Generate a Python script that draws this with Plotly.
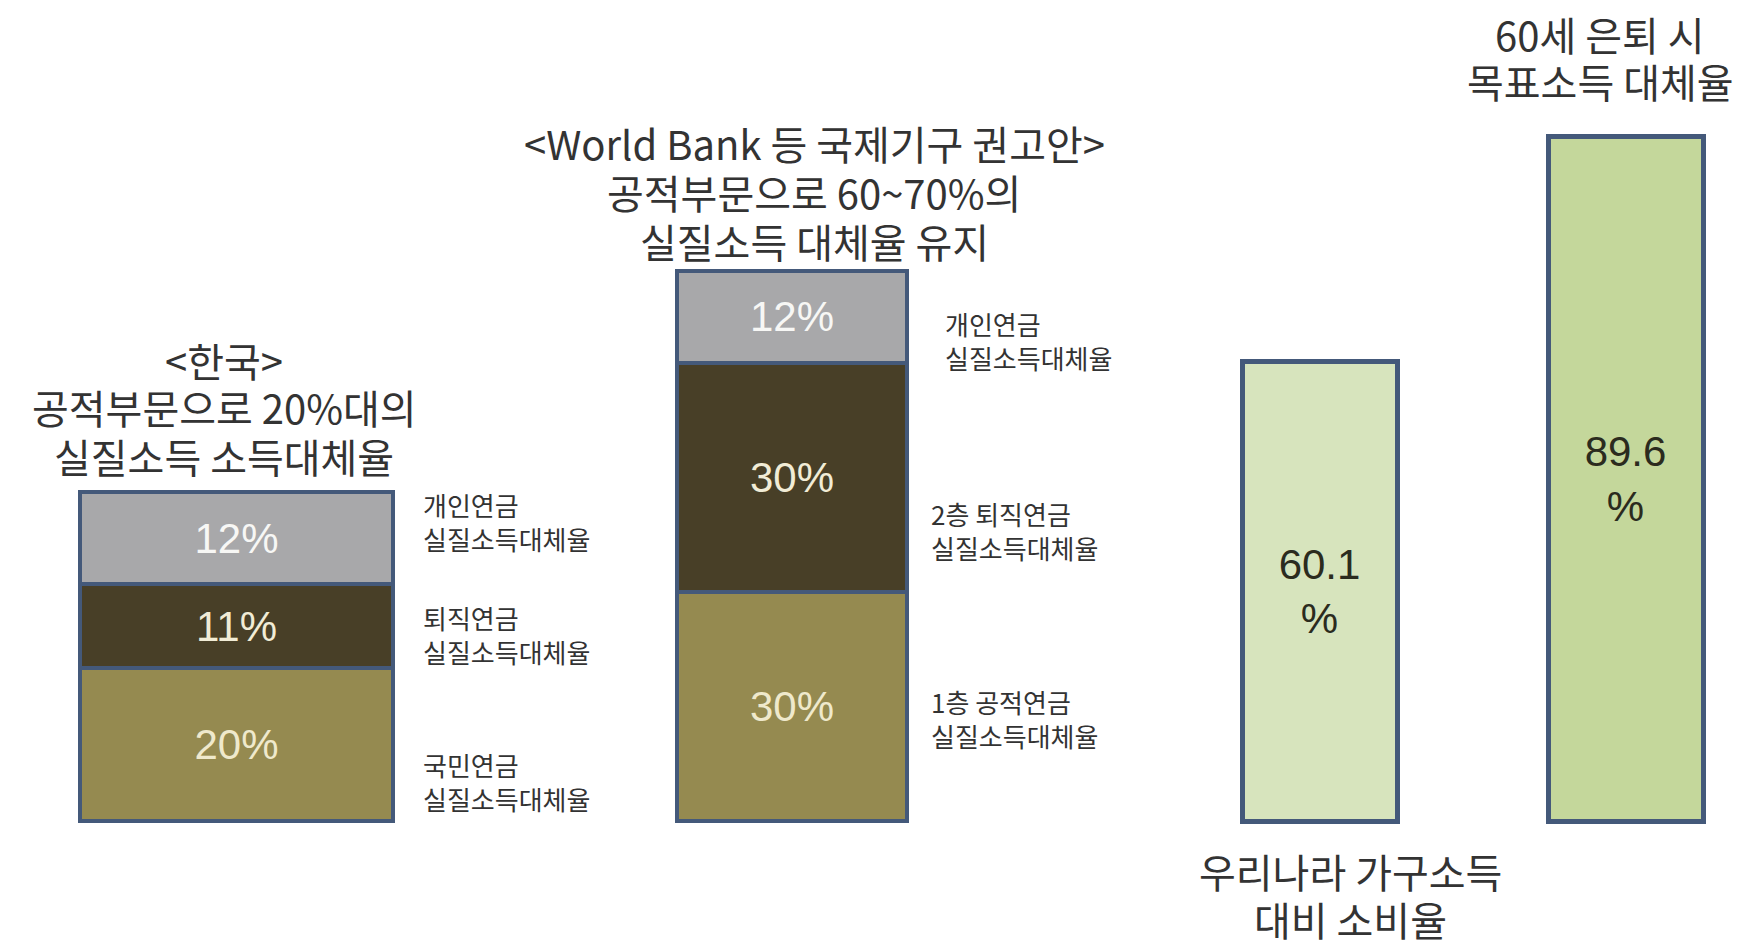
import plotly.graph_objects as go

# ---------------- data ----------------
segment_names = ["1층 공적연금", "2층 퇴직연금", "개인연금"]
korea_values = [20, 11, 12]
worldbank_values = [30, 30, 12]
compare_names = ["우리나라 가구소득 대비 소비율", "60세 은퇴 시 목표소득 대체율"]
compare_values = [60.1, 89.6]

korea_title = ["<한국>", "공적부문으로 20%대의", "실질소득 소득대체율"]
wb_title = ["<World Bank 등 국제기구 권고안>", "공적부문으로 60~70%의", "실질소득 대체율 유지"]
korea_side = ["국민연금<br>실질소득대체율", "퇴직연금<br>실질소득대체율", "개인연금<br>실질소득대체율"]
wb_side = ["1층 공적연금<br>실질소득대체율", "2층 퇴직연금<br>실질소득대체율", "개인연금<br>실질소득대체율"]
compare_titles = [["우리나라 가구소득", "대비 소비율"], ["60세 은퇴 시", "목표소득 대체율"]]

# ---------------- layout constants (pixels) ----------------
W, H = 1755, 947
px_per_pct = 7.64
baseline_px = 821
stack_x = [236.5, 792]
stack_w = [313, 230]
comp_x = [1319.5, 1625.5]
comp_w = [155, 155]

seg_colors = ["#958a50", "#483f27", "#a8a8aa"]
seg_text_colors = ["#efe9cc", "#f1ecd6", "#f7f7f5"]
comp_colors = ["#d7e4bd", "#c4d79b"]
outline = "#44597a"
kr_font = "Noto Sans CJK KR, Noto Sans, sans-serif"

fig = go.Figure()
for i, name in enumerate(segment_names):
    vals = [korea_values[i], worldbank_values[i]]
    fig.add_trace(go.Bar(
        x=stack_x, y=vals, width=stack_w, name=name,
        marker=dict(color=seg_colors[i], line=dict(color=outline, width=4)),
        text=[f"{v}%" for v in vals], textposition="inside",
        insidetextanchor="middle", textangle=0,
        textfont=dict(family="Liberation Sans, Arial, sans-serif", size=42,
                      color=seg_text_colors[i]),
        constraintext="none", hoverinfo="skip",
    ))

fig.add_trace(go.Bar(
    x=comp_x, y=compare_values, width=comp_w, name="비교",
    marker=dict(color=comp_colors, line=dict(color=outline, width=5)),
    text=[f"{v}<br>%" for v in compare_values], textposition="inside",
    insidetextanchor="middle", textangle=0,
    textfont=dict(family="Liberation Sans, Arial, sans-serif", size=42, color="#2b2b1e"),
    constraintext="none", hoverinfo="skip",
))

def px(xp, yp):
    return xp / W, 1 - yp / H

annotations = []
def add_text(text, xp, yp, size, xanchor="center", align="center", color="#333333"):
    x, y = px(xp, yp)
    annotations.append(dict(text=text, x=x, y=y, xref="paper", yref="paper",
                            xanchor=xanchor, yanchor="middle", align=align,
                            showarrow=False,
                            font=dict(family=kr_font, size=size, color=color)))

title_size = 40
for t, yp in zip(korea_title, [360, 407, 456]):
    add_text(t, 224, yp, title_size)
for t, yp in zip(wb_title, [143, 192, 241]):
    add_text(t, 814, yp, title_size)
for t, yp in zip(compare_titles[1], [34, 81]):
    add_text(t, 1600, yp, title_size)
for t, yp in zip(compare_titles[0], [871, 919]):
    add_text(t, 1350, yp, title_size)

side_size = 26
for t, yp in zip(korea_side, [781, 634, 521]):
    add_text(t, 421, yp, side_size, xanchor="left", align="left")
for t, (xp, yp) in zip(wb_side, [(929, 718), (929, 530), (943, 340)]):
    add_text(t, xp, yp, side_size, xanchor="left", align="left")

ymin = -(H - baseline_px) / px_per_pct
ymax = baseline_px / px_per_pct

fig.update_layout(
    width=W, height=H,
    margin=dict(l=0, r=0, t=0, b=0),
    barmode="stack",
    showlegend=False,
    plot_bgcolor="white", paper_bgcolor="white",
    xaxis=dict(range=[0, W], visible=False),
    yaxis=dict(range=[ymin, ymax], visible=False),
    annotations=annotations,
    hovermode=False,
)

fig.write_html("out.html", post_script="document.body.style.margin='0';",
               config={"displayModeBar": False})
